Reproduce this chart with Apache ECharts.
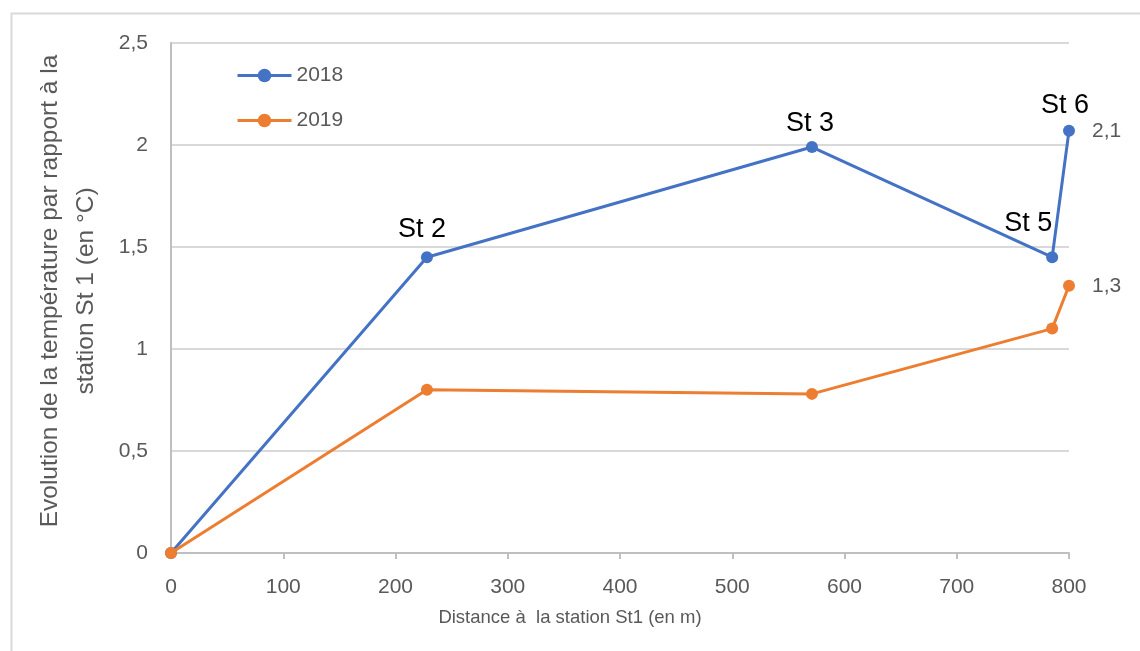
<!DOCTYPE html>
<html>
<head>
<meta charset="utf-8">
<script src="https://cdn.jsdelivr.net/npm/echarts@6/dist/echarts.min.js"></script>
<style>
  html, body { margin: 0; padding: 0; background: #ffffff; }
  #chart { width: 1140px; height: 651px; }
</style>
</head>
<body>
<div id="chart"></div>
<script>
// Distance from station St1 (m) and temperature change relative to St1 (°C)
const distances = [0, 228, 571, 785, 800];
const stations = ['St 1', 'St 2', 'St 3', 'St 5', 'St 6'];
const temp2018 = [0, 1.45, 1.99, 1.45, 2.07];
const temp2019 = [0, 0.80, 0.78, 1.10, 1.31];
const seriesNames = ['2018', '2019'];
const xTicks = [0, 100, 200, 300, 400, 500, 600, 700, 800];
const yTicks = [0, 0.5, 1, 1.5, 2, 2.5];

const FONT = "'Liberation Sans', Arial, sans-serif";
const GREY = '#595959';
const BLUE = '#4472C4';
const ORANGE = '#ED7D31';

const comma = v => String(v).replace('.', ',');
const oneDecimal = v => v.toFixed(1).replace('.', ',');

// station name placement around each 2018 point (first station unlabeled)
const stationLabelOffset = [null, [-5, 0], [-2, 4], [-24, -6], [-4, 2]];

const pairs = ys => distances.map((d, i) => [d, ys[i]]);

const data2018 = pairs(temp2018).map((p, i) => {
  const off = stationLabelOffset[i];
  return {
    value: p,
    label: off ? {
      show: true, position: 'top', distance: 8, offset: off,
      formatter: stations[i], color: '#000000', fontSize: 27,
      fontFamily: FONT
    } : { show: false }
  };
});

const last = distances.length - 1;
const valueMark = (ys) => ({
  symbol: 'circle', symbolSize: 0, silent: true,
  label: {
    show: true, position: 'right', distance: 23, color: GREY,
    fontSize: 21, fontFamily: FONT,
    formatter: p => oneDecimal(p.value)
  },
  data: [{ coord: [distances[last], ys[last]], value: ys[last] }]
});

const option = {
  animation: false,
  backgroundColor: '#ffffff',
  graphic: [{
    type: 'rect', left: 9, top: 11, silent: true,
    shape: { width: 1200, height: 700 },
    style: { fill: 'none', stroke: '#d9d9d9', lineWidth: 2 }
  }],
  grid: { left: 171, right: 71, top: 43, bottom: 98 },
  legend: {
    orient: 'vertical', left: 231, top: 60,
    itemWidth: 54, itemHeight: 17, itemGap: 24,
    lineStyle: { width: 3 },
    textStyle: { color: GREY, fontSize: 21, fontFamily: FONT, padding: [0, 0, 0, 0] },
    data: seriesNames
  },
  xAxis: {
    type: 'value', min: xTicks[0], max: xTicks[xTicks.length - 1], interval: 100,
    name: 'Distance à  la station St1 (en m)',
    nameLocation: 'middle', nameGap: 55,
    nameTextStyle: { color: GREY, fontSize: 18.5, fontFamily: FONT, padding: [0, 100, 0, 0] },
    axisLine: { show: true, lineStyle: { color: '#bfbfbf', width: 2 } },
    axisTick: { show: true, length: 6, lineStyle: { color: '#bfbfbf', width: 2 } },
    axisLabel: { color: GREY, fontSize: 21, fontFamily: FONT, margin: 24 },
    splitLine: { show: false }
  },
  yAxis: {
    type: 'value', min: yTicks[0], max: yTicks[yTicks.length - 1], interval: 0.5,
    name: 'Evolution de la température par rapport à la\nstation St 1 (en °C)',
    nameLocation: 'middle', nameRotate: 90, nameGap: 67,
    nameTextStyle: { color: GREY, fontSize: 24.5, fontFamily: FONT, lineHeight: 36, align: 'center', padding: [0, 0, 0, 14] },
    axisLine: { show: true, lineStyle: { color: '#bfbfbf', width: 2 } },
    axisTick: { show: false },
    axisLabel: { color: GREY, fontSize: 21, fontFamily: FONT, margin: 23, formatter: comma },
    splitLine: { show: true, lineStyle: { color: '#d9d9d9', width: 2 } }
  },
  series: [
    {
      name: seriesNames[0], type: 'line', data: data2018,
      symbol: 'circle', symbolSize: 12, z: 3,
      lineStyle: { color: BLUE, width: 3 },
      itemStyle: { color: BLUE },
      markPoint: valueMark(temp2018)
    },
    {
      name: seriesNames[1], type: 'line', data: pairs(temp2019),
      symbol: 'circle', symbolSize: 12, z: 4,
      lineStyle: { color: ORANGE, width: 3 },
      itemStyle: { color: ORANGE },
      markPoint: valueMark(temp2019)
    }
  ]
};

const chart = echarts.init(document.getElementById('chart'), null, { renderer: 'canvas' });
chart.setOption(option);
</script>
</body>
</html>
